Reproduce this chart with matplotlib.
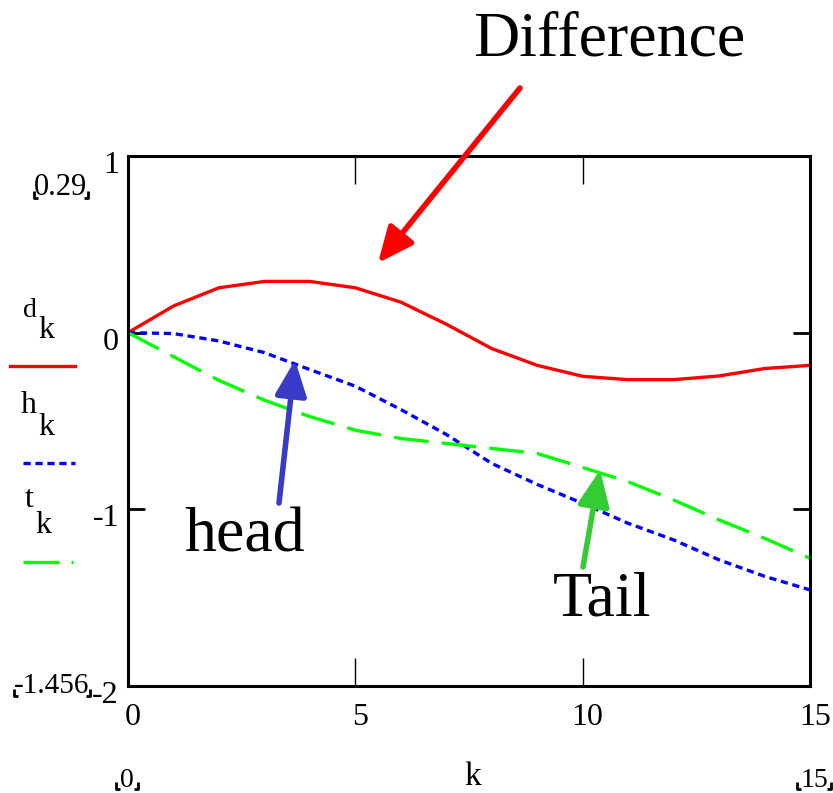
import matplotlib
matplotlib.use("Agg")
import matplotlib.pyplot as plt
from matplotlib.lines import Line2D

plt.rcParams['font.family'] = ['Liberation Serif', 'DejaVu Serif']
plt.rcParams['lines.scale_dashes'] = False

# ---- data -------------------------------------------------------------
k = list(range(16))
d_k = [0.0, 0.151, 0.254, 0.290, 0.290, 0.254, 0.173, 0.048,
       -0.090, -0.185, -0.247, -0.266, -0.266, -0.245, -0.203, -0.185]
h_k = [0.0, -0.005, -0.047, -0.113, -0.209, -0.303, -0.435, -0.576,
       -0.740, -0.859, -0.966, -1.079, -1.173, -1.286, -1.379, -1.456]
t_k = [0.0, -0.136, -0.270, -0.382, -0.475, -0.552, -0.599, -0.627,
       -0.655, -0.684, -0.763, -0.844, -0.947, -1.060, -1.164, -1.277]

x_tick_values = [0, 5, 10, 15]
y_tick_values = [1, 0, -1, -2]
y_tick_labels = ["1", "0", "-1", "-2"]
data_max_label = "0.29"
data_min_label = "-1.456"
k_first_label = "0"
k_last_label = "15"

RED = "#ff0000"
BLUE = "#0000ff"
GREEN = "#00ff00"
BLUE_ARROW = "#3a3ac8"
GREEN_ARROW = "#33cc33"

W, H = 833, 793
fig = plt.figure(figsize=(W / 100, H / 100), dpi=100)


def fx(px):
    return px / W


def fy(py):
    return 1 - py / H


ax = fig.add_axes([fx(128), fy(686), (810 - 128) / W, (686 - 156) / H])
ax.set_xlim(0, 15)
ax.set_ylim(-2, 1)

ax.plot(k, d_k, color=RED, lw=2.4)
ax.plot(k, h_k, color=BLUE, lw=2.4, dashes=(5.2, 3.4))
ax.plot(k, t_k, color=GREEN, lw=2.4, dashes=(25, 9.5))

for sp in ax.spines.values():
    sp.set_linewidth(2.2)
    sp.set_color("black")

# inward ticks on every side, without automatic labels
ax.set_xticks([5, 10])
ax.set_yticks([0, -1])
ax.tick_params(axis="x", which="both", direction="in", length=20, width=1.0,
               top=True, bottom=True, labelbottom=False)
ax.tick_params(axis="y", which="both", direction="in", length=12, width=2.0,
               left=True, right=True, labelleft=False)

TICK_FS = 23

# axis numbers
for v, s in zip(y_tick_values, y_tick_labels):
    ax.annotate(s, xy=(0, v), xycoords=("axes fraction", "data"),
                xytext=(-9, 5), textcoords="offset pixels",
                ha="right", va="top", fontsize=TICK_FS)
for v in x_tick_values:
    ax.annotate(str(v), xy=(v, 0), xycoords=("data", "axes fraction"),
                xytext=(5, -17), textcoords="offset pixels",
                ha="center", va="top", fontsize=TICK_FS)


def corners(xl, xr, yb, h=7, w=4, lw=2.0):
    """Mathcad-style range brackets below a number."""
    for x0, dx in ((xl, w), (xr, -w)):
        fig.add_artist(Line2D([fx(x0), fx(x0), fx(x0 + dx)],
                              [fy(yb - h), fy(yb), fy(yb)],
                              color="black", lw=lw, solid_capstyle="butt",
                              transform=fig.transFigure))


# y range labels on the left
fig.text(fx(61), fy(195), data_max_label, ha="center", va="baseline", fontsize=22)
corners(34, 88, 198)
fig.text(fx(52), fy(693), data_min_label, ha="center", va="baseline", fontsize=21)
corners(14, 90, 696)

# x range labels below
fig.text(fx(127), fy(787), k_first_label, ha="center", va="baseline", fontsize=20)
corners(116, 138, 789)
fig.text(fx(814), fy(787), k_last_label, ha="center", va="baseline", fontsize=20)
corners(797, 831, 789)
fig.text(fx(473), fy(785), "k", ha="center", va="baseline", fontsize=24)

# legend on the left
LEG_FS = 23
fig.text(fx(23), fy(317), "d", ha="left", va="baseline", fontsize=20)
fig.text(fx(38), fy(338), "k", ha="left", va="baseline", fontsize=LEG_FS)
fig.add_artist(Line2D([fx(10), fx(75)], [fy(366), fy(366)], color=RED, lw=2.4,
                      transform=fig.transFigure))
fig.text(fx(21), fy(413), "h", ha="left", va="baseline", fontsize=LEG_FS)
fig.text(fx(38), fy(435), "k", ha="left", va="baseline", fontsize=LEG_FS)
fig.add_artist(Line2D([fx(23), fx(75)], [fy(463), fy(463)], color=BLUE, lw=2.4,
                      dashes=(5.2, 3.4), transform=fig.transFigure))
fig.text(fx(25), fy(507), "t", ha="left", va="baseline", fontsize=LEG_FS)
fig.text(fx(35), fy(533), "k", ha="left", va="baseline", fontsize=LEG_FS)
fig.add_artist(Line2D([fx(23), fx(74)], [fy(562), fy(562)], color=GREEN, lw=2.4,
                      dashes=(26, 8.6, 1.5, 8.6), transform=fig.transFigure))

# annotations with arrows
big = 46
fig.text(fx(473), fy(56), "Difference", ha="left", va="baseline", fontsize=big)
fig.text(fx(184), fy(552), "head", ha="left", va="baseline", fontsize=big)
fig.text(fx(553), fy(615), "Tail", ha="left", va="baseline", fontsize=big)


def arrow(tail, tip, color):
    ax.annotate("", xy=(tip[0], H - tip[1]), xycoords="figure pixels",
                xytext=(tail[0], H - tail[1]), textcoords="figure pixels",
                arrowprops=dict(arrowstyle="-|>,head_length=0.45,head_width=0.2",
                                mutation_scale=48, lw=4, color=color,
                                shrinkA=0, shrinkB=0))


arrow((520, 88), (378, 263), RED)
arrow((279, 503), (295, 360), BLUE_ARROW)
arrow((583, 567), (600, 470), GREEN_ARROW)

fig.savefig("out.png", dpi=100)
